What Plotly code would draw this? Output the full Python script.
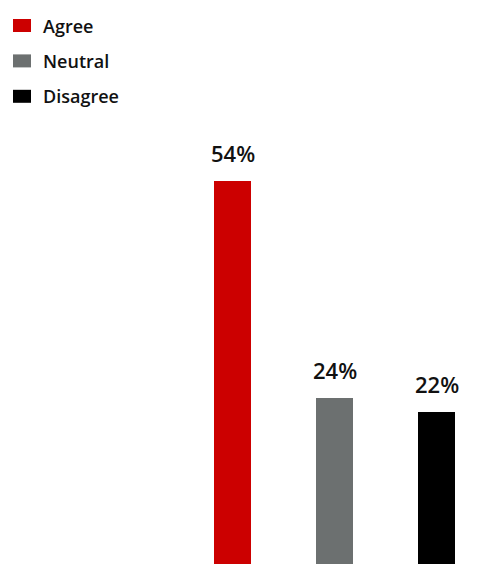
import plotly.graph_objects as go

categories = ["Agree", "Neutral", "Disagree"]
values = [54, 24, 22]
labels = ["54%", "24%", "22%"]
colors = ["#cc0000", "#6c7070", "#000000"]

W, H = 482, 564
FONT = "Open Sans"

fig = go.Figure()
fig.add_trace(go.Bar(
    x=categories, y=values, marker=dict(color=colors, line=dict(width=0)),
    width=0.363, showlegend=False, hoverinfo="skip",
))

# value labels above bars
for c, v, t in zip(categories, values, labels):
    fig.add_annotation(x=c, y=v, text=t, showarrow=False, xanchor="center",
                       yanchor="bottom", yshift=11,
                       font=dict(family=FONT, size=22, color="#111111", weight=600))

# legend drawn as shapes + text (pixel positions converted to paper)
for i, (c, col) in enumerate(zip(categories, colors)):
    cy = 25.5 + i * 35.4
    fig.add_shape(type="rect", xref="paper", yref="paper",
                  x0=13 / W, x1=31 / W, y0=1 - (cy + 6.5) / H, y1=1 - (cy - 6.5) / H,
                  fillcolor=col, line=dict(width=0))
    fig.add_annotation(xref="paper", yref="paper", x=41 / W, y=1 - cy / H, text=c,
                       showarrow=False, xanchor="left", yanchor="middle",
                       font=dict(family=FONT, size=18, color="#111111", weight=600))

fig.update_layout(
    width=W, height=H, margin=dict(l=0, r=0, t=0, b=0),
    paper_bgcolor="white", plot_bgcolor="white",
    xaxis=dict(range=[-232.5 / 102, (W - 232.5) / 102], visible=False, fixedrange=True),
    yaxis=dict(range=[1.05, 79.03], visible=False, fixedrange=True),
    bargap=0,
)
fig.write_html("out.html", config={"displayModeBar": False})
